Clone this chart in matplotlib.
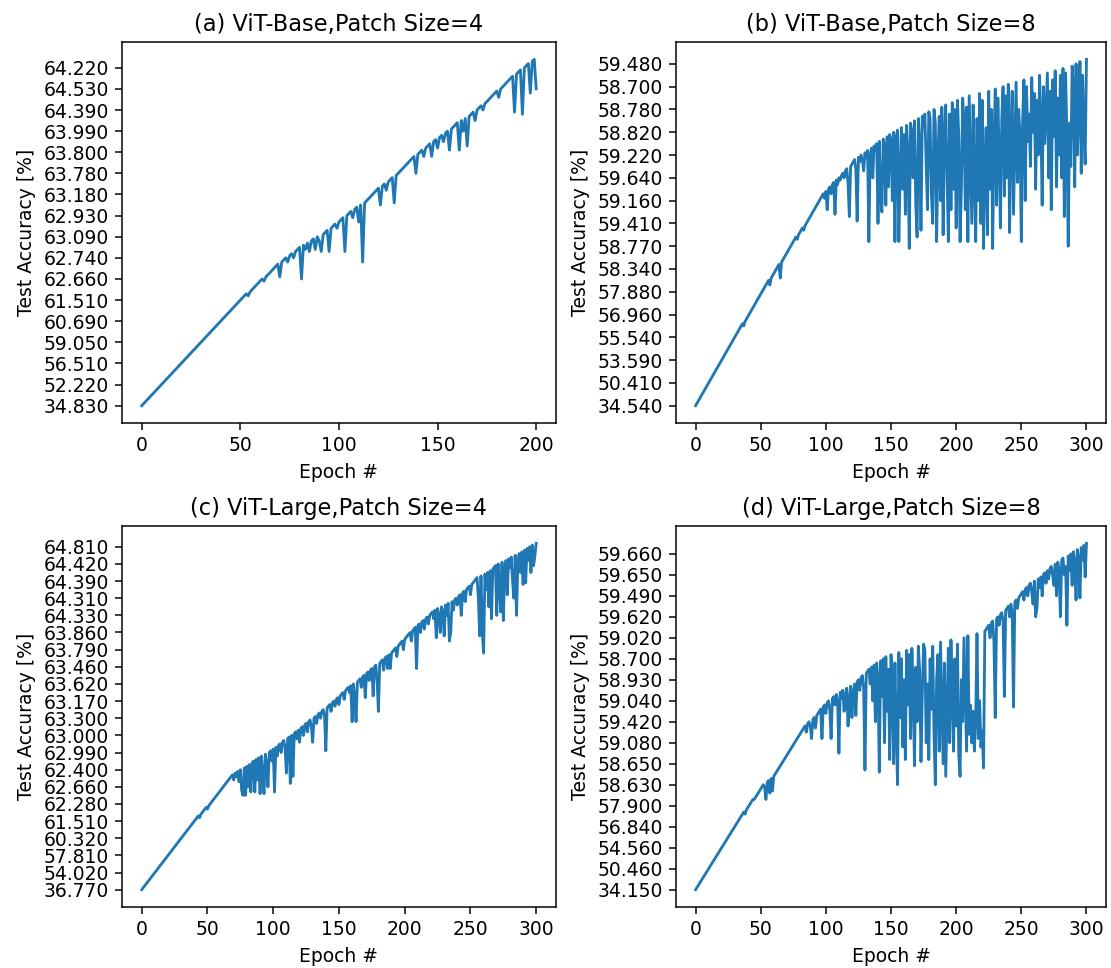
import matplotlib
matplotlib.use('Agg')
import matplotlib.pyplot as plt
from matplotlib.ticker import MultipleLocator

# y values were plotted as strings -> categorical axis, so each new accuracy
# gets the next slot and a repeated accuracy falls back to its old slot.
# the dicts hold the epochs where an earlier value came back (epoch: slot)

n_a = 201
rep_a = {54: 52, 62: 59, 70: 61, 74: 68, 77: 70, 81: 60, 83: 74, 85: 73, 88: 74, 90: 78,
         91: 73, 95: 73, 99: 84, 103: 73, 107: 89, 110: 87, 112: 68, 121: 95, 124: 102,
         128: 96, 139: 110, 143: 118, 147: 118, 150: 122, 153: 125, 156: 121, 161: 121,
         163: 130, 165: 123, 169: 135, 173: 140, 181: 146, 189: 139, 193: 138, 197: 148,
         200: 150}
ticks_a = ['34.830', '52.220', '56.510', '59.050', '60.690', '61.510', '62.660', '62.740',
           '63.090', '62.930', '63.180', '63.780', '63.800', '63.990', '64.390', '64.530',
           '64.220']

n_b = 301
rep_b = {37: 35, 57: 53, 65: 56, 78: 73, 83: 77, 99: 91,
         101: 86, 104: 93, 107: 84, 109: 97, 111: 99, 114: 100, 117: 98, 118: 83, 123: 104,
         124: 81, 126: 107, 128: 108, 129: 103, 131: 109, 133: 72, 134: 110, 136: 100,
         138: 112, 140: 80, 142: 92, 143: 85, 145: 114, 146: 88, 148: 96, 150: 116, 151: 90,
         153: 72, 154: 118, 156: 72, 157: 102, 159: 95, 160: 119, 161: 84, 163: 110, 164: 69,
         166: 120, 167: 100, 169: 88, 170: 74, 172: 115, 173: 77, 175: 122, 177: 105,
         178: 86, 180: 126, 181: 93, 182: 80, 184: 124, 185: 72, 186: 110, 187: 127, 188: 90,
         190: 75, 191: 120, 193: 100, 194: 72, 195: 128, 196: 86, 198: 95, 199: 130, 200: 78,
         202: 118, 203: 72, 204: 96, 206: 125, 207: 86, 208: 131, 209: 72, 211: 108, 212: 80,
         213: 132, 214: 100, 215: 72, 216: 126, 217: 90, 219: 80, 220: 134, 221: 69,
         222: 105, 223: 122, 224: 75, 226: 95, 227: 130, 228: 69, 229: 115, 231: 88,
         232: 135, 233: 110, 234: 78, 235: 126, 237: 92, 238: 136, 239: 100, 241: 76,
         242: 120, 243: 138, 244: 84, 245: 112, 247: 98, 248: 130, 249: 118, 250: 72,
         251: 125, 253: 90, 254: 140, 255: 116, 256: 128, 257: 105, 259: 120, 260: 137,
         261: 95, 262: 134, 263: 110, 265: 125, 266: 88, 267: 140, 268: 115, 269: 130,
         271: 100, 272: 138, 273: 86, 274: 143, 275: 118, 277: 96, 278: 135, 279: 110,
         280: 145, 281: 100, 283: 83, 284: 146, 285: 118, 286: 70, 287: 124, 288: 105,
         290: 140, 291: 96, 293: 110, 294: 128, 296: 102, 297: 145, 298: 122, 299: 106}
ticks_b = ['34.540', '50.410', '53.590', '55.540', '56.960', '57.880', '58.340', '58.770',
           '59.410', '59.160', '59.640', '59.220', '58.820', '58.780', '58.700', '59.480']

n_c = 301
rep_c = {44: 42, 50: 47, 70: 64, 72: 66, 74: 63, 76: 58, 77: 55, 79: 55, 81: 60, 83: 57,
         86: 57, 88: 64, 90: 56, 92: 68, 93: 56, 95: 73, 96: 60, 99: 75, 101: 57, 103: 78,
         106: 80, 109: 83, 110: 68, 113: 62, 115: 66, 118: 88, 120: 86, 123: 90, 126: 92,
         129: 95, 130: 86, 133: 97, 136: 100, 139: 102, 140: 81, 144: 104, 147: 107,
         150: 108, 154: 111, 158: 115, 160: 98, 162: 112, 163: 98, 167: 118, 170: 112,
         173: 122, 176: 113, 179: 122, 180: 104, 184: 128, 187: 129, 189: 129, 194: 136,
         199: 140, 205: 145, 209: 129, 212: 150, 215: 152, 218: 155, 222: 158, 224: 147,
         226: 160, 227: 150, 229: 162, 230: 148, 232: 160, 234: 145, 235: 150, 237: 163,
         240: 166, 243: 160, 246: 168, 250: 172, 256: 170, 257: 148, 259: 150, 260: 138,
         262: 175, 264: 165, 266: 158, 270: 160, 272: 178, 273: 162, 275: 157, 276: 185,
         278: 172, 280: 188, 282: 180, 283: 170, 285: 160, 286: 190, 288: 185, 290: 178,
         292: 179, 294: 192, 296: 185, 298: 189, 299: 195}
ticks_c = ['36.770', '54.020', '57.810', '60.320', '61.510', '62.280', '62.660', '62.400',
           '62.990', '63.000', '63.300', '63.170', '63.620', '63.460', '63.790', '63.860',
           '64.330', '64.310', '64.390', '64.420', '64.810']

n_d = 301
rep_d = {38: 36, 45: 43, 53: 49, 54: 43, 57: 46, 59: 47,
         85: 75, 88: 78, 89: 72, 92: 77, 97: 72, 100: 84, 103: 86, 104: 72, 107: 88, 109: 90,
         110: 65, 112: 91, 114: 85, 115: 92, 117: 78, 118: 90, 120: 82, 121: 94, 123: 83,
         126: 95, 129: 96, 130: 57, 134: 98, 136: 90, 138: 80, 140: 100, 141: 56, 143: 92,
         145: 70, 147: 85, 148: 105, 149: 62, 151: 95, 152: 60, 153: 108, 154: 76, 155: 50,
         157: 82, 158: 110, 159: 68, 160: 100, 161: 62, 163: 88, 164: 112, 165: 72, 167: 96,
         168: 59, 169: 106, 170: 80, 172: 104, 173: 61, 174: 93, 176: 114, 177: 70, 178: 98,
         179: 62, 180: 110, 181: 86, 182: 116, 183: 74, 184: 50, 185: 100, 186: 112, 187: 66,
         189: 90, 190: 60, 191: 108, 192: 54, 193: 84, 194: 115, 195: 70, 197: 95, 198: 66,
         199: 110, 200: 78, 201: 117, 202: 64, 203: 54, 204: 100, 205: 80, 207: 92, 208: 66,
         210: 74, 211: 88, 212: 70, 213: 85, 214: 66, 215: 82, 217: 72, 218: 90, 219: 68,
         220: 76, 221: 58, 226: 120, 229: 118, 230: 82, 233: 126, 236: 128, 237: 92,
         241: 130, 243: 132, 244: 87, 247: 134, 252: 138, 255: 140, 258: 142, 259: 136,
         261: 130, 262: 134, 264: 144, 266: 140, 269: 146, 271: 148, 274: 150, 275: 145,
         277: 140, 279: 152, 280: 130, 283: 150, 284: 154, 285: 126, 287: 152, 289: 145,
         291: 156, 292: 138, 294: 158, 295: 139, 297: 157, 299: 149}
ticks_d = ['34.150', '50.460', '54.560', '56.840', '57.900', '58.630', '58.650', '59.080',
           '59.420', '59.040', '58.930', '58.700', '59.020', '59.620', '59.490', '59.650',
           '59.660']

titles = ['(a) ViT-Base,Patch Size=4', '(b) ViT-Base,Patch Size=8',
          '(c) ViT-Large,Patch Size=4', '(d) ViT-Large,Patch Size=8']


def slots(n, rep):
    pos = []
    nxt = 0
    for e in range(n):
        if e in rep:
            pos.append(rep[e])
        else:
            pos.append(nxt)
            nxt += 1
    return pos


# original looks like a default-style figure saved at a higher dpi
fig = plt.figure(figsize=(1111 / 135, 968 / 135), dpi=135)
boxes = [[0.1098, 0.563, 0.3906, 0.3936], [0.6085, 0.563, 0.387, 0.3936],
         [0.1098, 0.063, 0.3906, 0.3936], [0.6085, 0.063, 0.387, 0.3936]]
data = [(n_a, rep_a, ticks_a), (n_b, rep_b, ticks_b), (n_c, rep_c, ticks_c), (n_d, rep_d, ticks_d)]

for box, (n, rep, labs), t in zip(boxes, data, titles):
    ax = fig.add_axes(box)
    y = slots(n, rep)
    ax.plot(range(n), y)
    ax.set_yticks(range(0, 10 * len(labs), 10))
    ax.set_yticklabels(labs)
    ax.xaxis.set_major_locator(MultipleLocator(50))
    ax.set_xlabel('Epoch #')
    ax.set_ylabel('Test Accuracy [%]')
    ax.set_title(t)

plt.savefig('out.png', dpi=135)
